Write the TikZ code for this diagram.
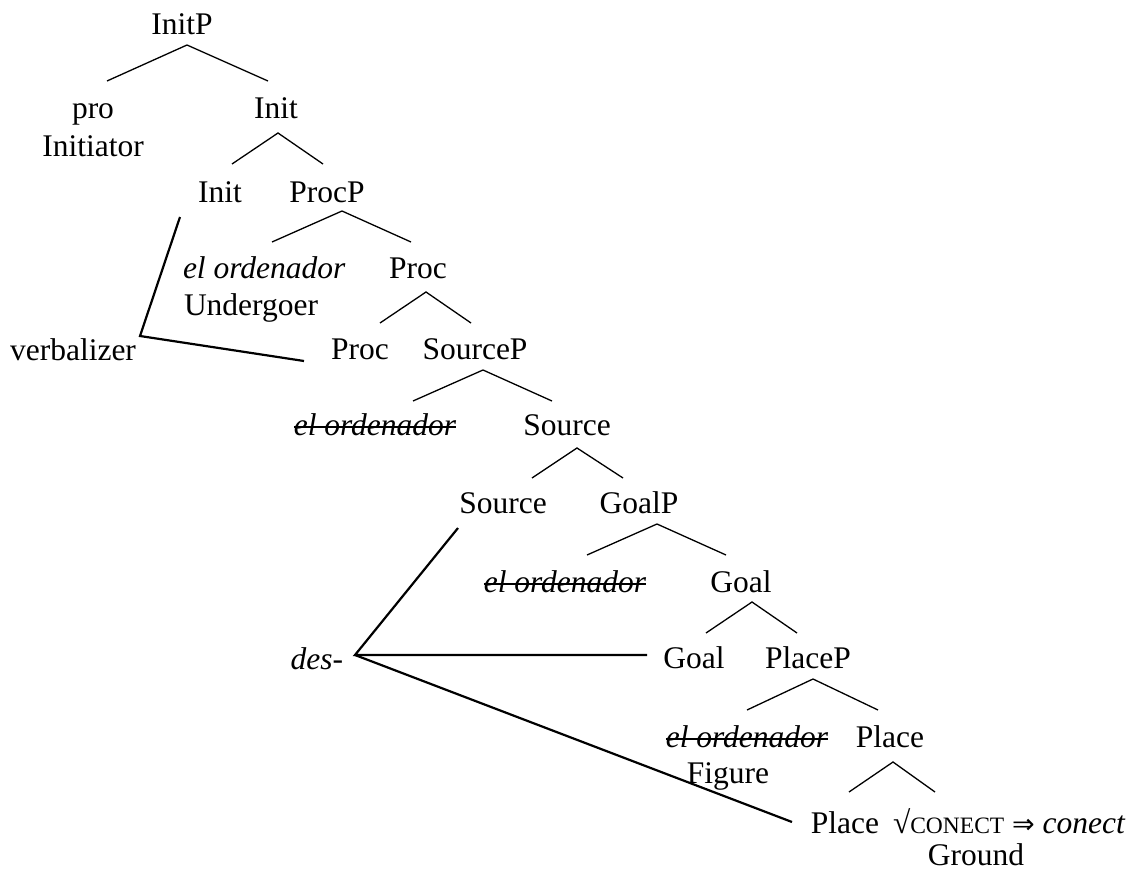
\documentclass[tikz,border=0pt]{standalone}
\usepackage{fontspec}
\setmainfont{Liberation Serif}
\newfontfamily\arrowfont{DejaVu Sans}
\newcommand{\smallcapsroot}[1]{{\fontsize{23.5}{28}\selectfont #1}}
\newcommand{\spellsto}{{\arrowfont\fontsize{27}{30}\selectfont\char"21D2}}
\begin{document}
\begin{tikzpicture}[x=1pt,y=-1pt,
  lbl/.style={inner sep=0pt, outer sep=0pt, font=\fontsize{31.5}{37}\selectfont, anchor=base},
  branch/.style={line width=1.3pt},
  strikeln/.style={line width=1.5pt},
  move/.style={line width=2.2pt, line join=miter}]
\useasboundingbox (0,0) rectangle (1145,872);

% ---- labels ----
\node[lbl] (initp) at (182,35) {InitP};
\node[lbl] (pro) at (93,119) {pro};
\node[lbl] (initiator) at (93,156) {Initiator};
\node[lbl] (initbar) at (276,119) {Init};
\node[lbl] (inithead) at (220,202) {Init};
\node[lbl] (procp) at (327,202) {ProcP};
\node[lbl, anchor=base west] (und) at (183,278) {\itshape el ordenador};
\node[lbl, anchor=base west] (undrole) at (184,315) {Undergoer};
\node[lbl] (procbar) at (418,278) {Proc};
\node[lbl] (verb) at (73,360) {verbalizer};
\node[lbl] (prochead) at (360,359) {Proc};
\node[lbl] (sourcep) at (475,359) {SourceP};
\node[lbl] (srcspec) at (375,435) {\itshape el ordenador};
\node[lbl] (srcbar) at (567,435) {Source};
\node[lbl] (srchead) at (503,513) {Source};
\node[lbl] (goalp) at (639,513) {GoalP};
\node[lbl] (goalspec) at (565,592) {\itshape el ordenador};
\node[lbl] (goalbar) at (741,592) {Goal};
\node[lbl, anchor=base east] (des) at (343,669) {\itshape des\upshape -};
\node[lbl] (goalhead) at (694,668) {Goal};
\node[lbl] (placep) at (808,668) {PlaceP};
\node[lbl] (placespec) at (747,747) {\itshape el ordenador};
\node[lbl] (figure) at (728,783) {Figure};
\node[lbl] (placebar) at (890,747) {Place};
\node[lbl] (placehead) at (845,833) {Place};
\node[lbl, anchor=base west] (root) at (893,833) {\char"221A\smallcapsroot{CONECT} \spellsto{} \itshape conect};
\node[lbl] (ground) at (976,865) {Ground};

% ---- strike-through of lower copies ----
\foreach \n in {srcspec, goalspec, placespec}
  \draw[strikeln] ([yshift=8pt]\n.base west) -- ([yshift=8pt]\n.base east);

% ---- branch points ----
\coordinate (initp-t) at (187,45);  \coordinate (initp-l) at (107,81);  \coordinate (initp-r) at (268,81);
\coordinate (init-t) at (278,133);  \coordinate (init-l) at (232,164);  \coordinate (init-r) at (323,164);
\coordinate (procp-t) at (342,211); \coordinate (procp-l) at (272,242); \coordinate (procp-r) at (411,242);
\coordinate (proc-t) at (426,292);  \coordinate (proc-l) at (380,323);  \coordinate (proc-r) at (471,323);
\coordinate (srcp-t) at (483,370);  \coordinate (srcp-l) at (413,401);  \coordinate (srcp-r) at (552,401);
\coordinate (src-t) at (577,448);   \coordinate (src-l) at (532,478);   \coordinate (src-r) at (623,478);
\coordinate (goalp-t) at (657,524); \coordinate (goalp-l) at (587,555); \coordinate (goalp-r) at (726,555);
\coordinate (goal-t) at (752,602);  \coordinate (goal-l) at (706,633);  \coordinate (goal-r) at (797,633);
\coordinate (placep-t) at (813,679);\coordinate (placep-l) at (747,710);\coordinate (placep-r) at (878,710);
\coordinate (place-t) at (893,762); \coordinate (place-l) at (849,792); \coordinate (place-r) at (935,792);

% ---- tree branches ----
\draw[branch] (initp-l) -- (initp-t) -- (initp-r);
\draw[branch] (init-l) -- (init-t) -- (init-r);
\draw[branch] (procp-l) -- (procp-t) -- (procp-r);
\draw[branch] (proc-l) -- (proc-t) -- (proc-r);
\draw[branch] (srcp-l) -- (srcp-t) -- (srcp-r);
\draw[branch] (src-l) -- (src-t) -- (src-r);
\draw[branch] (goalp-l) -- (goalp-t) -- (goalp-r);
\draw[branch] (goal-l) -- (goal-t) -- (goal-r);
\draw[branch] (placep-l) -- (placep-t) -- (placep-r);
\draw[branch] (place-l) -- (place-t) -- (place-r);

% ---- spell-out links ----
\coordinate (verb-top) at (180,217);
\coordinate (verb-v) at (140,336);
\coordinate (verb-end) at (304,361);
\draw[move] (verb-top) -- (verb-v) -- (verb-end);

\coordinate (des-v) at (355,655);
\coordinate (des-src) at (458,528);
\coordinate (des-goal) at (647,655);
\coordinate (des-place) at (792,822);
\draw[move] (des-src) -- (des-v) -- (des-goal);
\draw[move] (des-v) -- (des-place);
\end{tikzpicture}
\end{document}
